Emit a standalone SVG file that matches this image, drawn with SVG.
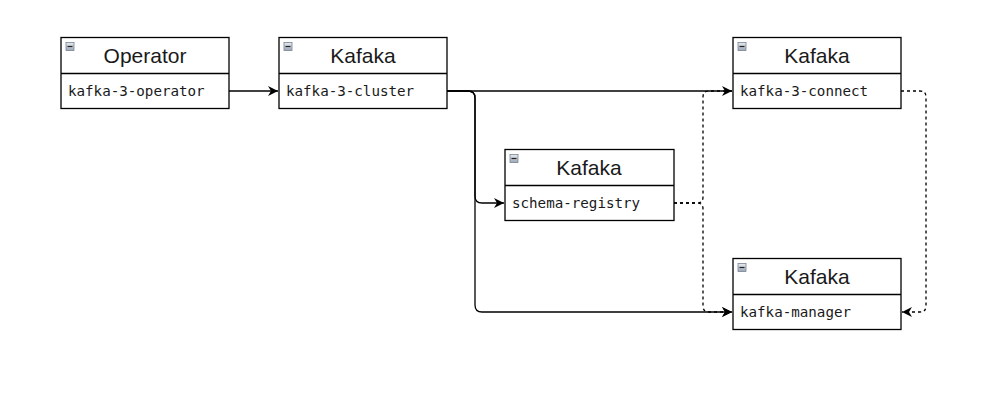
<svg xmlns="http://www.w3.org/2000/svg" width="986" height="409" viewBox="0 0 986 409">
<defs>
<style>
.box{fill:#fff;stroke:#000;stroke-width:1.3}
.div{stroke:#000;stroke-width:1.3}
.title{font-family:"Liberation Sans",Arial,sans-serif;font-size:21px;fill:#1a1a1a;text-anchor:middle}
.row{font-family:"DejaVu Sans Mono","Liberation Mono",monospace;font-size:14.2px;fill:#1a1a1a}
.ic{fill:url(#g);stroke:#7a8494;stroke-width:0.8}
.icm{stroke:#222;stroke-width:1.2}
.e{fill:none;stroke:#000;stroke-width:1.3}
.d{fill:none;stroke:#000;stroke-width:1.3;stroke-dasharray:3 3}
</style>
<linearGradient id="g" x1="0" y1="0" x2="0" y2="1">
<stop offset="0" stop-color="#e8ecf2"/>
<stop offset="1" stop-color="#9aa4b4"/>
</linearGradient>
<marker id="a" markerUnits="userSpaceOnUse" markerWidth="12" markerHeight="10" refX="10" refY="5" orient="auto" viewBox="0 0 12 10">
<path d="M0,0 L10,5 L0,10 L3,5 Z" fill="#000"/>
</marker>
</defs>
<g id="connectors">
<path class="e" d="M229,91 H278" marker-end="url(#a)"/>
<path class="e" d="M447,91 H732" marker-end="url(#a)"/>
<path class="e" d="M447,91 H468 Q475,91 475,98 V196 Q475,203 482,203 H504" marker-end="url(#a)"/>
<path class="e" d="M447,91 H468 Q475,91 475,98 V305 Q475,312 482,312 H732" marker-end="url(#a)"/>
<path class="d" d="M674,203 H697 Q703,203 703,197 V97 Q703,91 709,91 H732"/>
<path class="d" d="M674,203 H697 Q703,203 703,209 V306 Q703,312 709,312 H732" marker-end="url(#a)"/>
<path class="d" d="M901,91 H920 Q926,91 926,97 V306 Q926,312 920,312 H902" marker-end="url(#a)"/>
</g>
<g id="node-operator">
<rect class="box" x="61" y="37.5" width="168" height="71"/>
<line class="div" x1="61" y1="73.5" x2="229" y2="73.5"/>
<rect class="ic" x="66" y="42.5" width="8" height="8"/>
<line class="icm" x1="67.5" y1="46.5" x2="72.5" y2="46.5"/>
<text class="title" x="145" y="63">Operator</text>
<text class="row" x="68" y="95.5">kafka-3-operator</text>
</g>
<g id="node-cluster">
<rect class="box" x="279" y="37.5" width="168" height="71"/>
<line class="div" x1="279" y1="73.5" x2="447" y2="73.5"/>
<rect class="ic" x="284" y="42.5" width="8" height="8"/>
<line class="icm" x1="285.5" y1="46.5" x2="290.5" y2="46.5"/>
<text class="title" x="363" y="63">Kafaka</text>
<text class="row" x="286" y="95.5">kafka-3-cluster</text>
</g>
<g id="node-connect">
<rect class="box" x="733" y="37.5" width="168" height="71"/>
<line class="div" x1="733" y1="73.5" x2="901" y2="73.5"/>
<rect class="ic" x="738" y="42.5" width="8" height="8"/>
<line class="icm" x1="739.5" y1="46.5" x2="744.5" y2="46.5"/>
<text class="title" x="817" y="63">Kafaka</text>
<text class="row" x="740" y="95.5">kafka-3-connect</text>
</g>
<g id="node-schema">
<rect class="box" x="505" y="149.5" width="169" height="71"/>
<line class="div" x1="505" y1="185.5" x2="674" y2="185.5"/>
<rect class="ic" x="510" y="154.5" width="8" height="8"/>
<line class="icm" x1="511.5" y1="158.5" x2="516.5" y2="158.5"/>
<text class="title" x="589" y="175">Kafaka</text>
<text class="row" x="512" y="207.5">schema-registry</text>
</g>
<g id="node-manager">
<rect class="box" x="733" y="258.5" width="168" height="71"/>
<line class="div" x1="733" y1="294.5" x2="901" y2="294.5"/>
<rect class="ic" x="738" y="263.5" width="8" height="8"/>
<line class="icm" x1="739.5" y1="267.5" x2="744.5" y2="267.5"/>
<text class="title" x="817" y="284">Kafaka</text>
<text class="row" x="740" y="316.5">kafka-manager</text>
</g>
</svg>
